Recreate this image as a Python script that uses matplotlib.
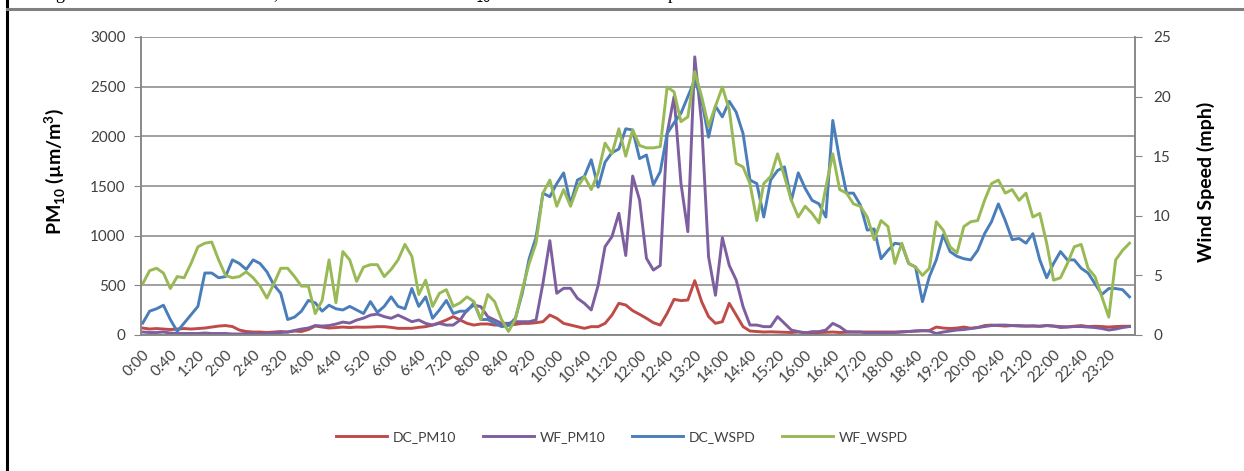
import matplotlib
matplotlib.use("Agg")
import matplotlib.pyplot as plt
from matplotlib.lines import Line2D
import numpy as np

plt.rcParams['font.family'] = ['Lato', 'DejaVu Sans']
plt.rcParams['mathtext.fontset'] = 'custom'
plt.rcParams['mathtext.rm'] = 'Lato'
plt.rcParams['mathtext.bf'] = 'Lato:bold'

# ---- data (10-minute samples, 0:00 .. 23:50) ----
times = [f"{m // 60}:{m % 60:02d}" for m in range(0, 1440, 10)]

dc_pm10 = [70, 60, 65, 60, 55, 60,
           65, 60, 65, 70, 80, 90,
           95, 85, 50, 35, 30, 30,
           25, 30, 35, 30, 40, 35,
           55, 90, 80, 70, 75, 80,
           75, 80, 78, 80, 84, 84,
           77, 67, 67, 67, 77, 84,
           100, 124, 151, 185, 151, 117,
           100, 111, 111, 100, 100, 100,
           107, 117, 117, 124, 134, 201,
           168, 117, 100, 84, 67, 84,
           84, 117, 201, 319, 302, 245,
           208, 168, 124, 100, 218, 359,
           346, 352, 547, 335, 185, 117,
           134, 319, 201, 84, 40, 35,
           30, 32, 30, 28, 25, 30,
           25, 22, 25, 28, 30, 25,
           28, 30, 30, 30, 30, 30,
           30, 30, 32, 35, 38, 40,
           45, 80, 70, 65, 70, 80,
           68, 75, 95, 100, 95, 90,
           95, 95, 90, 92, 88, 95,
           90, 85, 82, 88, 95, 85,
           88, 85, 80, 85, 88, 88]

wf_pm10 = [30, 25, 25, 30, 20, 15,
           15, 15, 15, 20, 15, 15,
           15, 10, 10, 15, 15, 10,
           15, 20, 25, 30, 45, 60,
           70, 95, 90, 95, 110, 130,
           120, 150, 170, 200, 210, 185,
           168, 200, 168, 134, 151, 117,
           100, 117, 100, 100, 151, 252,
           302, 285, 185, 151, 117, 117,
           134, 134, 134, 151, 520, 950,
           420, 470, 470, 369, 319, 252,
           500, 890, 990, 1225, 800, 1600,
           1360, 772, 654, 700, 2030, 2400,
           1527, 1040, 2800, 2131, 789, 400,
           980, 700, 554, 285, 100, 100,
           84, 84, 185, 117, 50, 34,
           20, 34, 34, 50, 117, 84,
           34, 30, 30, 20, 20, 20,
           22, 25, 30, 35, 42, 45,
           40, 15, 30, 40, 50, 55,
           65, 75, 85, 95, 100, 100,
           95, 90, 90, 90, 88, 95,
           90, 75, 80, 85, 85, 80,
           75, 65, 50, 60, 75, 85]

dc_wspd = [1.0, 2.0, 2.2, 2.5, 1.3, 0.3,
           1.0, 1.7, 2.4, 5.2, 5.2, 4.8,
           4.9, 6.3, 6.0, 5.5, 6.3, 6.0,
           5.3, 4.2, 3.5, 1.3, 1.5, 2.0,
           2.9, 2.7, 2.0, 2.5, 2.2, 2.1,
           2.4, 2.1, 1.8, 2.8, 1.9, 2.4,
           3.2, 2.4, 2.2, 3.9, 2.4, 3.2,
           1.4, 2.1, 2.9, 1.8, 2.0, 2.0,
           2.7, 1.3, 1.3, 1.0, 0.7, 0.8,
           1.4, 3.5, 6.4, 8.2, 11.9, 11.6,
           12.7, 13.6, 11.0, 13.0, 13.3, 14.7,
           12.4, 14.5, 15.3, 15.6, 17.3, 17.2,
           14.8, 15.1, 12.6, 13.7, 16.9, 17.8,
           18.6, 20.0, 21.4, 19.7, 16.6, 19.2,
           18.3, 19.6, 18.7, 16.9, 13.0, 12.7,
           9.9, 13.0, 13.8, 14.1, 11.3, 13.6,
           12.3, 11.3, 11.0, 9.9, 18.0, 14.7,
           11.9, 11.9, 10.9, 8.8, 8.9, 6.4,
           7.1, 7.7, 7.6, 6.0, 5.7, 2.8,
           4.9, 6.3, 8.4, 7.0, 6.6, 6.4,
           6.3, 7.1, 8.5, 9.5, 11.0, 9.6,
           8.0, 8.1, 7.7, 8.5, 6.3, 4.8,
           6.0, 7.0, 6.3, 6.3, 5.6, 5.2,
           4.3, 3.4, 3.9, 3.9, 3.8, 3.2]

wf_wspd = [4.3, 5.4, 5.6, 5.2, 3.9, 4.9,
           4.8, 6.0, 7.4, 7.7, 7.8, 6.3,
           5.0, 4.8, 4.9, 5.3, 4.8, 4.1,
           3.1, 4.3, 5.6, 5.6, 4.9, 4.1,
           4.1, 1.8, 2.9, 6.3, 2.7, 7.0,
           6.3, 4.5, 5.7, 5.9, 5.9, 4.9,
           5.5, 6.3, 7.6, 6.6, 3.4, 4.6,
           2.4, 3.5, 3.8, 2.4, 2.7, 3.2,
           2.8, 1.3, 3.4, 2.8, 1.3, 0.3,
           1.3, 3.8, 6.0, 7.7, 11.9, 13.0,
           10.8, 12.2, 10.8, 12.4, 13.3, 12.2,
           13.6, 16.1, 15.2, 17.3, 15.0, 17.2,
           15.9, 15.7, 15.7, 15.8, 20.8, 20.4,
           17.9, 18.3, 22.1, 20.0, 17.5, 19.2,
           20.8, 18.9, 14.4, 14.1, 12.7, 9.6,
           12.7, 13.3, 15.2, 13.3, 11.3, 9.9,
           10.8, 10.2, 9.4, 12.4, 15.2, 12.2,
           11.9, 11.0, 10.8, 9.9, 8.0, 9.6,
           9.1, 6.0, 7.7, 6.0, 5.7, 5.0,
           5.6, 9.5, 8.8, 7.4, 6.9, 9.1,
           9.5, 9.6, 11.3, 12.7, 13.0, 11.9,
           12.2, 11.3, 11.9, 9.9, 10.2, 7.7,
           4.6, 4.8, 6.0, 7.4, 7.6, 5.6,
           4.9, 3.2, 1.5, 6.3, 7.1, 7.7]

pm_ticks = [0, 500, 1000, 1500, 2000, 2500, 3000]
ws_ticks = [0, 5, 10, 15, 20, 25]
tick_every = 4  # label every 40 minutes

# ---- figure ----
W, H = 1244, 471
fig = plt.figure(figsize=(W / 100, H / 100), dpi=100)
L, R, T, B = 141, 1135, 37, 335
ax = fig.add_axes([L / W, 1 - B / H, (R - L) / W, (B - T) / H])
ax2 = ax.twinx()

x = np.arange(len(times))
lw = 2.1
l1, = ax.plot(x, dc_pm10, color='#BE4B48', lw=lw, label='DC_PM10')
l2, = ax.plot(x, wf_pm10, color='#7D5FA0', lw=lw, label='WF_PM10')
l3, = ax2.plot(x, dc_wspd, color='#4A7EBB', lw=lw, label='DC_WSPD')
l4, = ax2.plot(x, wf_wspd, color='#98B954', lw=lw, label='WF_WSPD')

ax.set_xlim(-0.25, len(times) - 0.2)
ax.set_ylim(0, 3000)
ax2.set_ylim(0, 25)
ax.set_yticks(pm_ticks)
ax2.set_yticks(ws_ticks)
ax.set_xticks(x[::tick_every])
ax.set_xticklabels(times[::tick_every], rotation=45, ha='right',
                   rotation_mode='anchor')

gc = '#868686'
ax.yaxis.grid(True, color=gc, lw=1.1)
ax.set_axisbelow(True)
for a in (ax, ax2):
    a.spines['top'].set_visible(False)
    for s in ('left', 'right', 'bottom'):
        a.spines[s].set_color(gc)
        a.spines[s].set_linewidth(1.1)
ax2.patch.set_visible(False)

tc = '#404040'
ax.tick_params(axis='y', length=5, color=gc, labelsize=11, labelcolor=tc, pad=6)
ax2.tick_params(axis='y', length=5, color=gc, labelsize=11, labelcolor=tc, pad=8)
ax.tick_params(axis='x', length=0, labelsize=11, labelcolor=tc, pad=9)

ax.set_ylabel(r'PM$_{\mathbf{10}}$ (µm/m$^{\mathbf{3}}$)', fontsize=14,
              fontweight='bold', color='black')
ax.yaxis.set_label_coords((67 - L) / (R - L), 0.55)
ax2.set_ylabel('Wind Speed (mph)', fontsize=14, fontweight='bold',
               color='black', rotation=90)
ax2.yaxis.set_label_coords((1197 - L) / (R - L), 0.513)

fig.legend(handles=[l1, l2, l3, l4], loc='center', bbox_to_anchor=(0.5, 1 - 437 / H),
           ncol=4, frameon=False, fontsize=10, handlelength=3.7,
           handletextpad=0.4, columnspacing=1.9, labelcolor=tc)

# page frame and cut-off caption
fig.add_artist(Line2D([7 / W, 7 / W], [0, 1], color='black', lw=2.2,
                      transform=fig.transFigure))
fig.add_artist(Line2D([7 / W, 1], [1 - 9 / H, 1 - 9 / H], color='#808080', lw=2.2,
                      transform=fig.transFigure))
fig.text(40 / W, 1 + 1 / H,
         r"Figure 6. Time series at the sites, and the measured total PM$_{10}$ concentrations over the period.",
         family='Liberation Serif', fontsize=13, va='baseline', ha='left')

fig.savefig('out.png', dpi=100)
